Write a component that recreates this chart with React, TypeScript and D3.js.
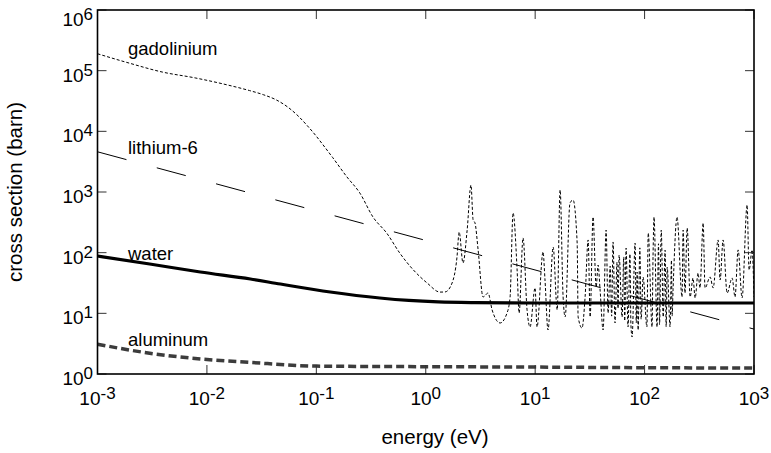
import React from "react";
import * as d3 from "d3";

// ---- data ----
const xTickExps = [-3, -2, -1, 0, 1, 2, 3];
const yTickExps = [0, 1, 2, 3, 4, 5, 6];

const gdEnergy = [
  0.001, 0.0019, 0.0039, 0.0078, 0.0155, 0.0245, 0.033, 0.043, 0.055, 0.068, 0.083, 0.1, 0.115, 0.141, 0.19, 0.25, 0.33, 0.44, 0.58, 0.77, 1.03, 1.35,
  1.5, 1.74, 1.93, 2.02, 2.19, 2.39, 2.59, 2.71, 2.82, 3.01, 3.34, 3.71, 4.04, 4.78, 5.53, 5.9, 6.28, 6.84, 7.13, 7.75,
  8.43, 8.98, 9.98, 10.4, 11.8, 12.3, 13.1, 14.6, 15.9, 16.9, 18.0, 18.8, 20.8, 22.2, 24.2, 24.7, 26.8, 28.6, 30.5, 31.8,
  33.8, 36.1, 37.6, 39.2, 41.8, 44.5, 46.4, 48.5, 50.0, 51.5, 53.7, 56.0, 57.2, 58.5, 62.3, 64.5, 65.8, 67.8, 70.6, 73.5, 75.0,
  76.9, 81.9, 84.0, 85.5, 87.3, 90.5, 93.0, 96.9, 105, 108, 117, 119.5, 122, 130, 134, 137, 142, 148, 154, 157.5, 161, 171, 176, 178.5, 182, 198,
  220, 225, 234, 245, 261, 277, 290, 308, 321, 343, 357, 397,
  423, 470, 490, 522, 568, 631, 671, 716, 778, 865, 902, 961, 1000,
];
const gdSigma = [
  190000, 135000, 95000, 76000, 58000, 47000, 40000, 33000, 25000, 18000, 12300, 8300, 6000, 3700, 1780, 960, 385, 210, 98, 52, 31.6, 22.4,
  22.5, 31.6, 84.8, 219, 67.6, 236, 1300, 345, 308, 111, 18.6, 21.6, 11.4, 6.93, 10.1, 18.6, 451, 51.8, 10.1, 175,
  11.4, 5.96, 26.2, 5.96, 103, 35.4, 5.31, 124, 11.4, 1080, 18.6, 8.7, 659, 738, 144, 8.7, 5.73, 18.6, 162, 8.7,
  387, 27.2, 62.6, 24.3, 5.31, 236, 10.1, 60, 9.0, 150, 6.93, 70, 12, 91.5, 8.7, 85, 7.5, 119, 5.96, 95, 6.5,
  4.07, 144, 7.0, 48, 5.31, 120, 8.0, 39.7, 5.96, 211, 5.96, 90, 387, 5.96, 140, 6.5, 236, 8.7, 110, 6.0, 58, 5.96, 75, 9.0, 24.3, 387,
  18.6, 236, 21.6, 255, 18.6, 38.2, 17.9, 46.2, 26.2, 308, 26.2, 39.7,
  26.2, 162, 35.4, 162, 21.6, 38.2, 18.6, 111, 17.9, 611, 51.8, 111, 18.6,
];

const liEnergy = [0.001, 1000];
const liSigma = [4600, 5.5];

const waterEnergy = [0.001, 0.003, 0.0087, 0.025, 0.047, 0.134, 0.38, 0.7, 1.3, 2.8, 10, 100, 1000];
const waterSigma = [88, 65, 48, 36.8, 30.4, 22.5, 17.9, 16.3, 15.4, 15.0, 14.8, 14.8, 14.8];

const alEnergy = [0.001, 0.003, 0.0087, 0.025, 0.1, 1, 10, 100, 1000];
const alSigma = [3.1, 2.2, 1.77, 1.55, 1.35, 1.32, 1.3, 1.27, 1.25];

const seriesLabels = ["gadolinium", "lithium-6", "water", "aluminum"];
const seriesLabelBaseline = [190000, 4600, 88, 3.1];

// ---- layout ----
const W = 771;
const H = 453;
const L = 97.5;
const R = 754;
const T = 10;
const B = 374;
const FONT = "Arial, 'Liberation Sans', Helvetica, sans-serif";

export default function App() {
  const x = d3.scaleLog().domain([1e-3, 1e3]).range([L, R]);
  const y = d3.scaleLog().domain([1, 1e6]).range([B, T]);

  const mk = (es: number[], ss: number[]) =>
    d3
      .line<number>()
      .x((_, i) => x(es[i]))
      .y((_, i) => y(ss[i]))
      .curve(d3.curveMonotoneX)(es) as string;

  const gdPath = mk(gdEnergy, gdSigma);
  const liPath = mk(liEnergy, liSigma);
  const waterPath = mk(waterEnergy, waterSigma);
  const alPath = mk(alEnergy, alSigma);

  const labelOffsets = [1, 2, 4, 2];

  return (
    <svg
      width={W}
      height={H}
      style={{ position: "absolute", left: 0, top: 0, background: "#fff" }}
      fontFamily={FONT}
    >
      <defs>
        <clipPath id="plotclip">
          <rect x={L} y={T} width={R - L} height={B - T} />
        </clipPath>
      </defs>
      <rect x={0} y={0} width={W} height={H} fill="#fff" />

      <g clipPath="url(#plotclip)" fill="none">
        <path d={alPath} stroke="#3c3c3c" strokeWidth={3.5} strokeDasharray="8,4" />
        <path d={waterPath} stroke="#000" strokeWidth={3.2} />
        <path d={liPath} stroke="#000" strokeWidth={1} strokeDasharray="30,31.4" />
        <path d={gdPath} stroke="#000" strokeWidth={1} strokeDasharray="3,2" />
      </g>

      {/* ticks */}
      <g stroke="#333" strokeWidth={1}>
        {xTickExps.map((e) => {
          const px = x(Math.pow(10, e));
          return (
            <g key={"xt" + e}>
              <line x1={px} x2={px} y1={B} y2={B - 9} />
              <line x1={px} x2={px} y1={T} y2={T + 9} />
            </g>
          );
        })}
        {yTickExps.map((e) => {
          const py = y(Math.pow(10, e));
          return (
            <g key={"yt" + e}>
              <line x1={L} x2={L + 9} y1={py} y2={py} />
              <line x1={R} x2={R - 9} y1={py} y2={py} />
            </g>
          );
        })}
      </g>

      {/* frame */}
      <rect x={L} y={T} width={R - L} height={B - T} fill="none" stroke="#000" strokeWidth={1.6} />

      {/* x tick labels */}
      {xTickExps.map((e) => (
        <text key={"xl" + e} x={x(Math.pow(10, e))} y={405} textAnchor="middle" fontSize={19} fill="#000">
          10
          <tspan fontSize={17} dy={-6}>
            {e < 0 ? "-" + Math.abs(e) : String(e)}
          </tspan>
        </text>
      ))}

      {/* y tick labels */}
      {yTickExps.map((e) => {
        const py = y(Math.pow(10, e));
        const base = Math.max(py + 11, 26);
        return (
          <text key={"yl" + e} x={93} y={base} textAnchor="end" fontSize={19} fill="#000">
            10
            <tspan fontSize={17} dy={-6}>
              {String(e)}
            </tspan>
          </text>
        );
      })}

      {/* series labels */}
      {seriesLabels.map((s, i) => (
        <text key={s} x={128} y={y(seriesLabelBaseline[i]) + labelOffsets[i]} fontSize={18.5} fill="#000">
          {s}
        </text>
      ))}

      {/* axis titles */}
      <text x={435} y={444} textAnchor="middle" fontSize={20.5} fill="#000">
        energy (eV)
      </text>
      <text transform={`translate(22, 192) rotate(-90)`} textAnchor="middle" fontSize={20.5} fill="#000">
        cross section (barn)
      </text>
    </svg>
  );
}
